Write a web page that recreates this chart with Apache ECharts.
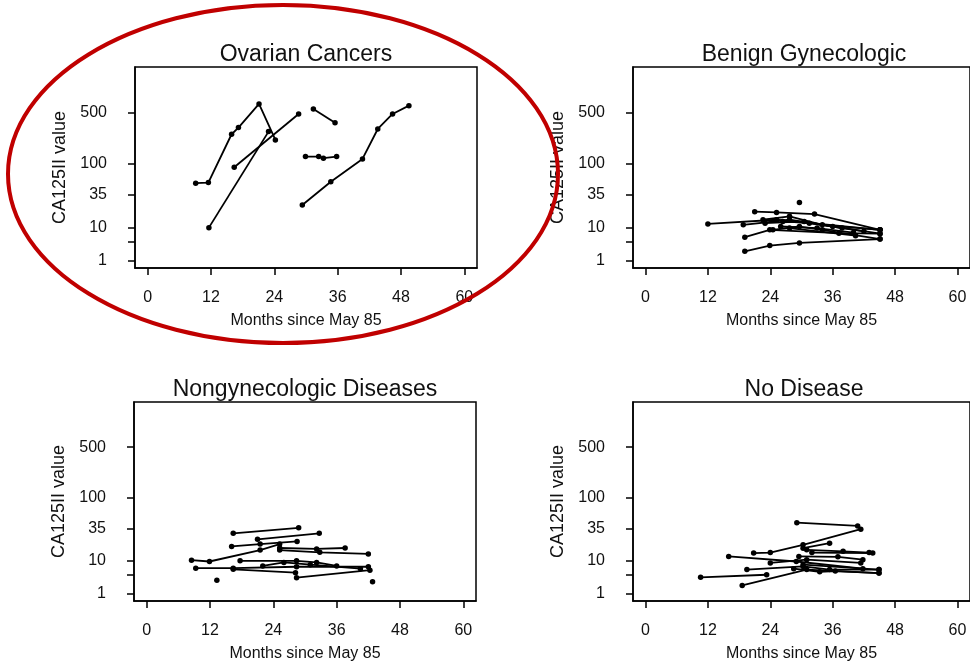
<!DOCTYPE html>
<html>
<head>
<meta charset="utf-8">
<title>CA125II value by months since May 85</title>
<script src="https://cdn.jsdelivr.net/npm/echarts@6.0.0/dist/echarts.min.js"></script>
<style>
  html, body { margin: 0; padding: 0; background: #fff; }
  #chart { width: 970px; height: 663px; }
</style>
</head>
<body>
<div id="chart"></div>
<script>
var panelTitles = ['Ovarian Cancers', 'Benign Gynecologic', 'Nongynecologic Diseases', 'No Disease'];
var monthTicks = [0, 12, 24, 36, 48, 60];
var caTicks = [1, 5, 10, 35, 100, 500];
var caLabels = [1, 10, 35, 100, 500];

// one inner array per patient: [month, CA125II value]
var ovarian = [
    [[9.1, 52], [11.5, 53], [15.9, 253], [17.2, 312], [21.1, 657], [24.2, 211]],
    [[11.6, 10], [22.9, 275]],
    [[16.4, 88], [28.6, 480]],
    [[31.4, 562], [35.5, 365]],
    [[29.9, 124], [32.4, 124], [33.3, 118], [35.8, 124]],
    [[29.3, 24.4], [34.7, 54.6], [40.7, 115], [43.6, 299], [46.4, 480], [49.5, 623]]
];
var benign = [
    [[12.0, 11.7], [25.2, 13.9], [45.1, 9.1]],
    [[21.0, 19.0], [25.2, 18.5], [32.5, 17.4], [45.1, 9.1]],
    [[19.1, 6.4], [23.9, 9.1], [37.2, 7.8], [45.1, 7.6]],
    [[19.1, 2.7], [23.9, 4.0], [29.6, 4.7], [45.1, 5.8]],
    [[18.8, 11.3], [27.7, 13.9], [45.1, 7.6]],
    [[24.5, 9.1], [29.6, 10.5], [34.0, 9.1], [45.1, 5.8]],
    [[22.6, 13.9], [27.7, 15.9], [34.0, 11.3], [45.1, 9.1]],
    [[27.7, 9.8], [40.4, 6.9]],
    [[26.4, 13.0], [31.5, 12.1], [37.8, 9.8]],
    [[23.0, 12.1], [30.5, 13.0], [36.0, 10.5], [42.0, 8.5]],
    [[26.0, 10.5], [33.0, 9.8], [40.0, 8.0]],
    [[29.6, 26.7]]
];
var nongyn = [
    [[16.4, 29.5], [28.8, 35.8]],
    [[21.0, 23.7], [32.7, 29.5]],
    [[16.1, 18.2], [21.5, 19.9], [28.5, 22.0]],
    [[8.5, 10.4], [11.9, 9.8], [21.5, 15.8], [25.2, 19.9]],
    [[25.2, 17.1], [32.2, 16.5], [37.6, 17.1]],
    [[25.2, 15.8], [32.8, 14.4], [42.0, 13.5]],
    [[17.7, 10.1], [28.4, 10.1], [32.2, 9.4], [36.0, 8.0]],
    [[9.3, 7.2], [16.4, 7.2], [28.4, 7.7], [42.0, 7.7]],
    [[16.4, 6.8], [28.2, 5.7]],
    [[28.4, 4.3], [42.3, 6.5]],
    [[22.0, 8.0], [26.0, 9.4], [31.0, 8.5], [40.5, 7.0]],
    [[13.3, 3.65]],
    [[42.8, 3.3]]
];
var noDisease = [
    [[29.1, 42.8], [40.8, 38.3]],
    [[20.8, 14.0], [24.0, 14.3], [30.3, 19.3], [41.4, 34.1]],
    [[16.0, 12.2], [29.0, 9.8], [41.8, 7.0]],
    [[10.6, 4.4], [23.3, 5.1]],
    [[18.6, 2.5], [31.0, 6.7], [44.9, 5.6]],
    [[19.5, 6.7], [30.3, 7.8], [35.4, 6.7], [44.9, 6.7]],
    [[24.0, 9.2], [31.0, 10.6], [41.4, 9.2]],
    [[30.3, 17.0], [35.4, 20.6]],
    [[31.0, 15.9], [38.0, 15.0], [43.0, 14.3]],
    [[32.0, 14.3], [43.7, 14.0]],
    [[29.5, 12.2], [37.0, 12.0], [41.8, 10.6]],
    [[28.5, 7.0], [33.5, 6.0], [36.5, 6.2], [44.9, 5.6]],
    [[30.3, 8.5], [44.9, 6.7]]
];

var panels = [ovarian, benign, nongyn, noDisease];

// the y scale of the original is log10(value + 4)
function tf(v) { return Math.log10(v + 4); }
function untf(t) { return Math.pow(10, t) - 4; }

var boxes = [
    { left: 135, top: 67, width: 342, height: 201 },
    { left: 633, top: 67, width: 341, height: 201 },
    { left: 134, top: 402, width: 342, height: 199 },
    { left: 633, top: 402, width: 341, height: 200 }
];
var font = "'Liberation Sans', Arial, sans-serif";
var ink = '#111';

var chart = echarts.init(document.getElementById('chart'));

var grids = [], xAxes = [], yAxes = [], titles = [], series = [];
boxes.forEach(function (b, k) {
    grids.push({
        left: b.left, top: b.top, width: b.width, height: b.height,
        show: true, borderColor: '#000', borderWidth: 1.5, backgroundColor: 'transparent'
    });
    titles.push({
        text: panelTitles[k],
        left: b.left + 171, top: b.top - 24, textAlign: 'center', padding: 0,
        textStyle: { fontFamily: font, fontSize: 23, fontWeight: 'normal', color: ink }
    });
    xAxes.push({
        gridIndex: k, type: 'value', min: -2.4, max: 62.4,
        name: 'Months since May 85', nameLocation: 'middle', nameGap: 45,
        nameTextStyle: { fontFamily: "'Liberation Sans Narrow', " + font, fontSize: 16, color: ink },
        axisLine: { onZero: false, lineStyle: { color: '#000', width: 1.5 } },
        axisTick: { customValues: monthTicks, length: 7, lineStyle: { color: '#000', width: 1.5 } },
        axisLabel: { customValues: monthTicks, margin: 22, fontFamily: font, fontSize: 16, color: ink },
        splitLine: { show: false }
    });
    yAxes.push({
        gridIndex: k, type: 'value', min: 0.6, max: 3.32,
        name: 'CA125II value', nameLocation: 'middle', nameGap: 66,
        nameTextStyle: { fontFamily: font, fontSize: 18, color: ink },
        axisLine: { onZero: false, lineStyle: { color: '#000', width: 1.5 } },
        axisTick: { customValues: caTicks.map(tf), length: 7, lineStyle: { color: '#000', width: 1.5 } },
        axisLabel: {
            customValues: caLabels.map(tf), margin: 28, fontFamily: font, fontSize: 16, color: ink,
            formatter: function (v) { return String(Math.round(untf(v))); }
        },
        splitLine: { show: false }
    });
    panels[k].forEach(function (patient) {
        series.push({
            type: 'line', xAxisIndex: k, yAxisIndex: k,
            data: patient.map(function (p) { return [p[0], tf(p[1])]; }),
            symbol: 'circle', symbolSize: 5.5, showSymbol: true,
            lineStyle: { color: '#000', width: 1.8 },
            itemStyle: { color: '#000' },
            silent: true
        });
    });
});

chart.setOption({
    animation: false,
    backgroundColor: '#fff',
    title: titles,
    grid: grids,
    xAxis: xAxes,
    yAxis: yAxes,
    series: series,
    graphic: [{
        type: 'ellipse', z: 100, silent: true,
        shape: { cx: 283, cy: 174, rx: 275, ry: 169 },
        style: { fill: 'none', stroke: '#c00000', lineWidth: 4 }
    }]
});
</script>
</body>
</html>
